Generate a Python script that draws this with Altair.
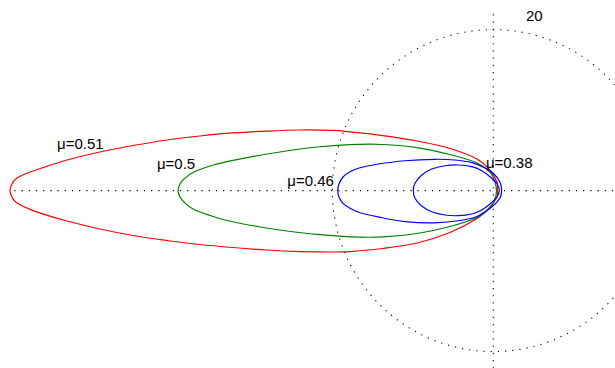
import numpy as np
import pandas as pd
import altair as alt

# Polar loci for four friction coefficients, stored as Cartesian points (x, y)
# traced around each closed loop.
red_x = [0.52, 0.46, -0.41, -2.02, -5.38, -9.48, -13.70, -17.83, -19.91, -24.01,
         -28.11, -32.34, -36.44, -40.53, -44.76, -48.86, -52.96, -57.18, -59.17,
         -59.79, -60.04, -59.79, -59.17, -57.18, -52.96, -48.86, -44.76, -40.53,
         -36.44, -32.34, -28.11, -24.01, -19.91, -17.83, -13.70, -9.48, -5.38,
         -2.02, -0.41, 0.46]
red_y = [0.00, 1.07, 2.53, 3.93, 5.23, 6.16, 6.84, 7.30, 7.47, 7.53,
         7.40, 7.16, 6.78, 6.29, 5.60, 4.80, 3.80, 2.43, 1.57,
         0.82, 0.00, -0.80, -1.54, -2.48, -3.78, -4.77, -5.58, -6.20,
         -6.70, -7.07, -7.38, -7.57, -7.63, -7.57, -7.19, -6.51, -5.20,
         -3.47, -2.04, -0.80]

green_x = [0.40, 0.21, -0.41, -2.02, -5.38, -9.48, -13.70, -17.83, -21.90, -26.13,
           -30.22, -33.08, -35.19, -37.30, -38.42, -38.92, -39.17, -38.92, -38.42,
           -37.30, -35.19, -33.08, -28.98, -26.13, -21.90, -17.83, -13.70, -9.48,
           -5.38, -2.02, -0.41, 0.21]
green_y = [0.00, 1.07, 2.31, 3.43, 4.48, 5.35, 5.73, 5.71, 5.42, 4.86,
           4.17, 3.61, 3.06, 2.25, 1.44, 0.82, 0.00, -0.80, -1.42,
           -2.29, -3.09, -3.71, -4.52, -4.96, -5.45, -5.74, -5.76, -5.33,
           -4.46, -3.34, -2.16, -1.04]

blue_outer_x = [1.04, 0.83, 0.09, -1.03, -2.65, -4.76, -7.24, -10.97, -14.45, -16.56,
                -17.80, -18.67, -19.17, -19.33, -19.17, -18.67, -17.80, -16.56, -14.45,
                -10.97, -6.87, -2.65, -1.03, 0.09, 0.83]
blue_outer_y = [0.00, 1.07, 2.06, 2.81, 3.47, 3.80, 3.89, 3.71, 3.27, 2.84,
                2.35, 1.69, 0.82, 0.00, -0.80, -1.58, -2.20, -2.75, -3.24,
                -3.86, -3.99, -3.44, -2.62, -1.79, -0.92]

blue_inner_x = [0.75, 0.42, -0.41, -1.44, -2.68, -4.35, -6.00, -7.65, -8.89, -9.73,
                -9.94, -9.73, -8.89, -7.65, -6.00, -4.35, -2.68, -1.44, -0.41, 0.42]
blue_inner_y = [0.00, 0.91, 1.73, 2.47, 2.97, 3.18, 3.09, 2.68, 1.94, 0.91,
                0.00, -0.96, -1.91, -2.62, -3.03, -3.12, -2.91, -2.41, -1.66, -0.83]

curve_names = ["0.51", "0.5", "0.46", "0.38"]
curve_colors = ["#ff0000", "#008000", "#0000ff", "#0000ff"]

# Label text, anchor (left / baseline) in data units
label_text = ["μ=0.51", "μ=0.5", "μ=0.46", "μ=0.38", "20"]
label_x = [-54.19, -41.79, -25.59, -0.91, 4.06]
label_y = [5.13, 2.65, 0.57, 2.77, 21.10]

grid_radius = 20

x_dom = [-61.28, 15.12]
y_dom = [-22.04, 23.68]

frames = []
for name, xs, ys in zip(curve_names,
                        [red_x, green_x, blue_outer_x, blue_inner_x],
                        [red_y, green_y, blue_outer_y, blue_inner_y]):
    frames.append(pd.DataFrame({"x": xs, "y": ys, "i": range(len(xs)), "curve": name}))
curves = pd.concat(frames, ignore_index=True)

t = np.linspace(0, 2 * np.pi, 721)
circle = pd.DataFrame({"x": grid_radius * np.cos(t), "y": grid_radius * np.sin(t), "i": range(len(t))})

labels = pd.DataFrame({"text": label_text, "x": label_x, "y": label_y})

xs = alt.Scale(domain=x_dom, nice=False, zero=False)
ys = alt.Scale(domain=y_dom, nice=False, zero=False)

dots = dict(color="#000000", strokeDash=[1.2, 6], strokeWidth=1.1, clip=True)

circle_layer = alt.Chart(circle).mark_line(**dots).encode(
    x=alt.X("x:Q", scale=xs, axis=None),
    y=alt.Y("y:Q", scale=ys, axis=None),
    order="i:Q",
)

h_axis = alt.Chart(pd.DataFrame({"x": [-59.5], "x2": [x_dom[1]], "y": [0.0]})).mark_rule(**dots).encode(
    x=alt.X("x:Q", scale=xs, axis=None), x2="x2:Q", y=alt.Y("y:Q", scale=ys, axis=None)
)
v_axis = alt.Chart(pd.DataFrame({"y": [21.9], "y2": [y_dom[0]], "x": [0.0]})).mark_rule(**dots).encode(
    y=alt.Y("y:Q", scale=ys, axis=None), y2="y2:Q", x=alt.X("x:Q", scale=xs, axis=None)
)

curve_layer = alt.Chart(curves).mark_line(strokeWidth=1.2, interpolate="cardinal-closed", clip=True).encode(
    x=alt.X("x:Q", scale=xs, axis=None),
    y=alt.Y("y:Q", scale=ys, axis=None),
    detail="curve:N",
    order="i:Q",
    color=alt.Color("curve:N", scale=alt.Scale(domain=curve_names, range=curve_colors), legend=None),
)

text_layer = alt.Chart(labels).mark_text(
    align="left", baseline="alphabetic", fontSize=15, font="Liberation Sans", color="#000000"
).encode(
    x=alt.X("x:Q", scale=xs, axis=None),
    y=alt.Y("y:Q", scale=ys, axis=None),
    text="text:N",
)

chart = alt.layer(circle_layer, h_axis, v_axis, curve_layer, text_layer).properties(
    width=615, height=368, padding=0, autosize=alt.AutoSizeParams(type="none")
).configure_view(stroke=None)

chart.save("out.html", embed_options={"renderer": "svg", "actions": False})
